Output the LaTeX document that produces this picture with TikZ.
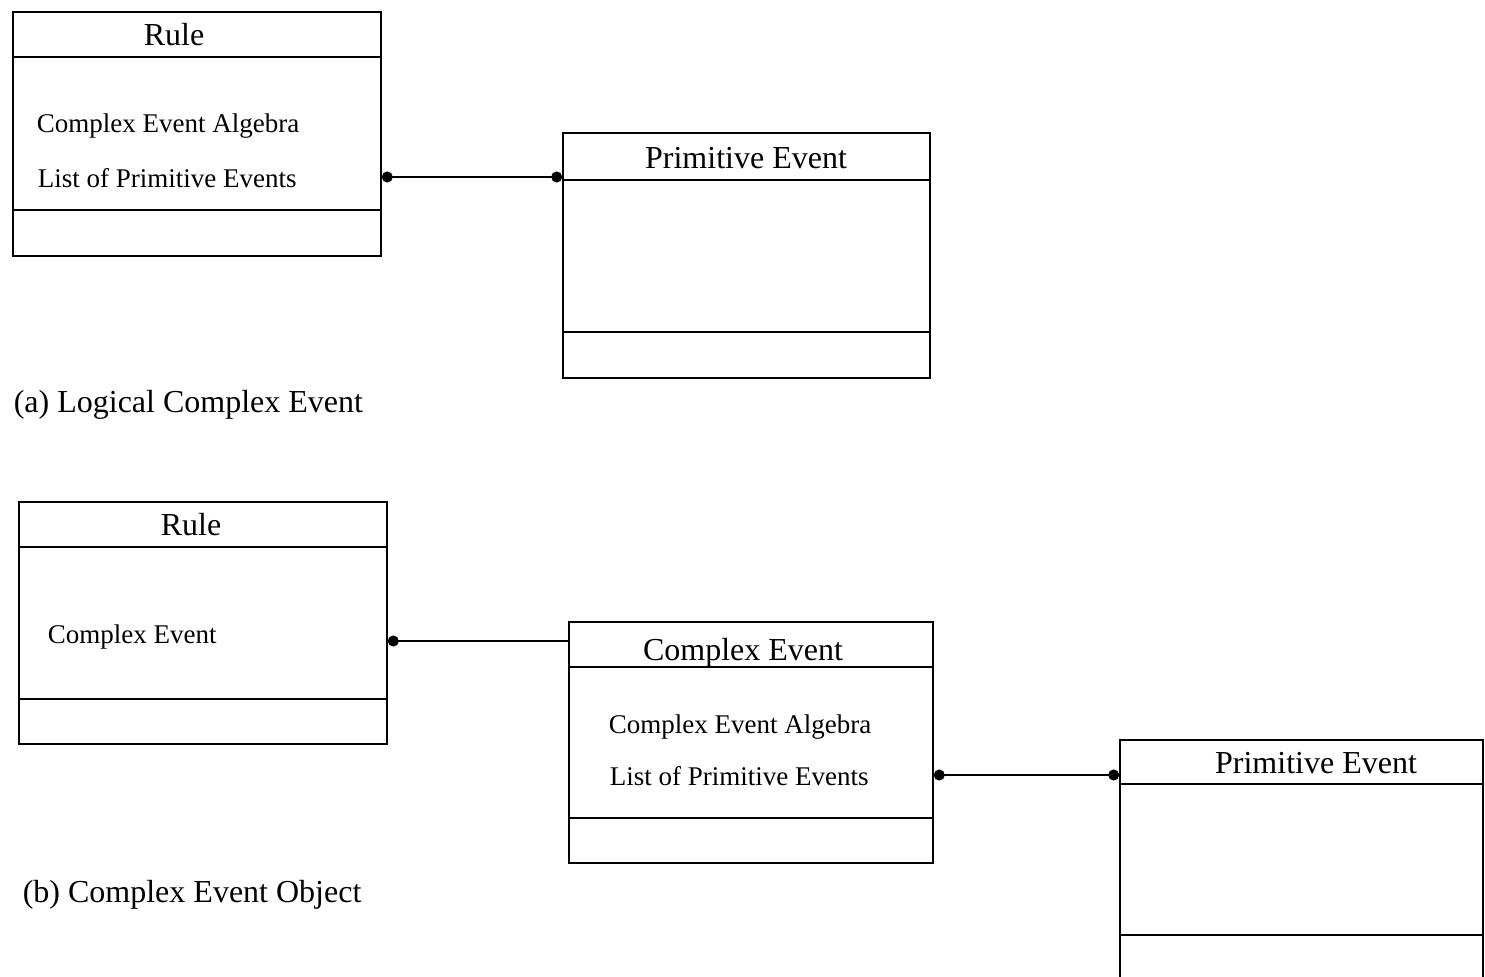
\documentclass[tikz,border=0pt]{standalone}
\usepackage{fontspec}
\setmainfont{Liberation Serif}
\usetikzlibrary{arrows.meta,fit}

% class box: name, x1, y1, x2, y2, header rule y, separator rule y
\newcommand\umlclass[7]{%
  \node[box, fit={(#2,#3)(#4,#5)}] (#1) {};
  \draw (#2,#6) -- (#4,#6);
  \draw (#2,#7) -- (#4,#7);}

\begin{document}
\begin{tikzpicture}[x=0.5pt, y=-0.5pt, line width=0.8pt,
  box/.style={draw, rectangle, inner sep=0pt},
  title/.style={font=\fontsize{16}{19}\selectfont, inner sep=0pt, anchor=base},
  attr/.style={font=\fontsize{13.5}{16}\selectfont, inner sep=0pt, anchor=base west},
  caption/.style={font=\fontsize{16}{19}\selectfont, inner sep=0pt, anchor=base west},
  dotboth/.style={{Circle[length=5.5pt]}-{Circle[length=5.5pt]}},
  dotstart/.style={{Circle[length=5.5pt]}-}]
\useasboundingbox (0,0) rectangle (1485,976);
\clip (0,0) rectangle (1485,976);

% (a) logical complex event
\umlclass{ruleA}{13}{12}{381}{256}{57}{210}
\node[title] (ruleAt) at (174,45) {Rule};
\node[attr] (algA) at (36,132) {Complex Event Algebra};
\node[attr] (listA) at (37,187) {List of Primitive Events};

\umlclass{primA}{563}{133}{930}{378}{180}{332}
\node[title] (primAt) at (746,168) {Primitive Event};

\coordinate (pA) at (0,177);
\draw[dotboth] (ruleA.east |- pA) -- (primA.west |- pA);

\node[caption] (capA) at (13,412) {(a) Logical Complex Event};

% (b) complex event object
\umlclass{ruleB}{19}{502}{387}{744}{547}{699}
\node[title] (ruleBt) at (191,535) {Rule};
\node[attr] (ceB) at (47,643) {Complex Event};

\umlclass{ceObj}{569}{622}{933}{863}{667}{818}
\node[title] (ceObjt) at (743,660) {Complex Event};
\node[attr] (algB) at (608,733) {Complex Event Algebra};
\node[attr] (listB) at (609,785) {List of Primitive Events};

\umlclass{primB}{1120}{740}{1483}{990}{784}{935}
\node[title] (primBt) at (1316,773) {Primitive Event};

\coordinate (pB) at (0,641);
\draw[dotstart] (ruleB.east |- pB) -- (ceObj.west |- pB);
\coordinate (pC) at (0,775);
\draw[dotboth] (ceObj.east |- pC) -- (primB.west |- pC);

\node[caption] (capB) at (22,902) {(b) Complex Event Object};
\end{tikzpicture}
\end{document}
